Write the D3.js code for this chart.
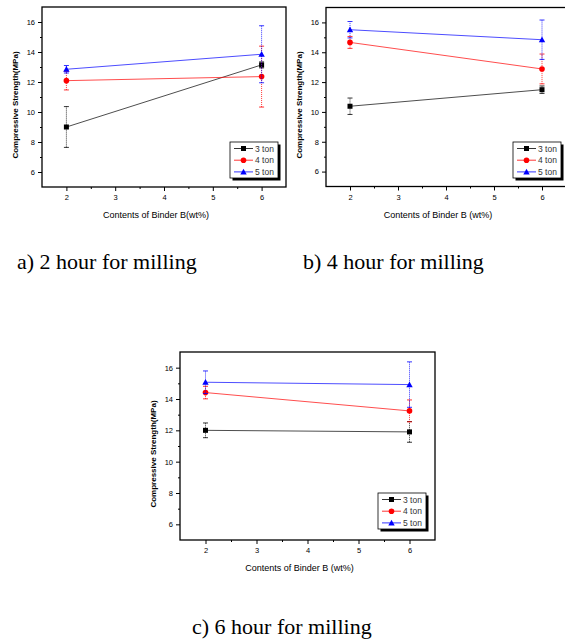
<!DOCTYPE html>
<html>
<head>
<meta charset="utf-8">
<script src="https://cdn.jsdelivr.net/npm/d3@7"></script>
<style>
  body { margin: 0; background: #fff; }
  svg { display: block; }
</style>
</head>
<body>
<script>
// Binder contents on the x axis
var binder = [2, 6];
var seriesNames = ["3 ton", "4 ton", "5 ton"];
var seriesColors = ["#000000", "#ff0000", "#0000ff"];
var xTicks = [2, 3, 4, 5, 6];
var yTicks = [6, 8, 10, 12, 14, 16];

// mean compressive strength, rows = 3 ton, 4 ton, 5 ton
var mean2h = [[9.0, 13.14], [12.09, 12.36], [12.85, 13.85]];
var err2h  = [[1.36, 0.2], [0.62, 2.03], [0.25, 1.9]];
var mean4h = [[10.38, 11.49], [14.66, 12.88], [15.51, 14.84]];
var err4h  = [[0.55, 0.25], [0.4, 1.0], [0.55, 1.32]];
var mean6h = [[12.0, 11.9], [14.41, 13.24], [15.07, 14.92]];
var err6h  = [[0.47, 0.66], [0.4, 0.7], [0.72, 1.45]];

var svg = d3.select("body").append("svg")
    .attr("width", 565)
    .attr("height", 639);

var panels = [
  { mean: mean2h, err: err2h, x0: 42, x1: 286, y0: 7, y1: 187,
    xTitle: "Contents of Binder B(wt%)", caption: "a) 2 hour for milling",
    capX: 17, capY: 269, legX: 230, legY: 142 },
  { mean: mean4h, err: err4h, x0: 326, x1: 566, y0: 7.5, y1: 186.5,
    xTitle: "Contents of Binder B (wt%)", caption: "b) 4 hour for milling",
    capX: 303, capY: 269, legX: 513, legY: 142 },
  { mean: mean6h, err: err6h, x0: 180, x1: 435, y0: 352, y1: 540,
    xTitle: "Contents of Binder B (wt%)", caption: "c) 6 hour for milling",
    capX: 192, capY: 634, legX: 378, legY: 493 }
];

panels.forEach(drawPanel);

function drawPanel(p) {
  var x = d3.scaleLinear().domain([1.5, 6.5]).range([p.x0, p.x1]);
  var y = d3.scaleLinear().domain([5, 17]).range([p.y1, p.y0]);
  var g = svg.append("g");

  // frame
  g.append("rect")
      .attr("x", p.x0).attr("y", p.y0)
      .attr("width", p.x1 - p.x0).attr("height", p.y1 - p.y0)
      .attr("fill", "none").attr("stroke", "#000").attr("stroke-width", 1.3);

  // axes
  var xAxis = g.append("g")
      .attr("transform", "translate(0," + p.y1 + ")")
      .call(d3.axisBottom(x).tickValues(xTicks).tickSize(4).tickSizeOuter(0).tickFormat(d3.format("d")));
  g.append("g")
      .attr("transform", "translate(0," + p.y1 + ")")
      .call(d3.axisBottom(x).tickValues([2.5, 3.5, 4.5, 5.5]).tickSize(2).tickSizeOuter(0).tickFormat(""));
  var yAxis = g.append("g")
      .attr("transform", "translate(" + p.x0 + ",0)")
      .call(d3.axisLeft(y).tickValues(yTicks).tickSize(4).tickSizeOuter(0));
  g.append("g")
      .attr("transform", "translate(" + p.x0 + ",0)")
      .call(d3.axisLeft(y).tickValues([7, 9, 11, 13, 15]).tickSize(2).tickSizeOuter(0).tickFormat(""));
  g.selectAll(".domain").remove();
  g.selectAll(".tick line").attr("stroke-width", 1);
  g.selectAll(".tick text")
      .attr("font-family", "Arial, 'Liberation Sans', sans-serif")
      .attr("font-size", 7.5).attr("fill", "#000");
  xAxis.selectAll(".tick text").attr("dy", "0.71em").attr("y", 8);
  yAxis.selectAll(".tick text").attr("x", -7);

  // axis titles
  g.append("text")
      .attr("x", (p.x0 + p.x1) / 2 - 8).attr("y", p.y1 + 31)
      .attr("text-anchor", "middle")
      .attr("font-family", "Arial, 'Liberation Sans', sans-serif")
      .attr("font-size", 9)
      .text(p.xTitle);
  g.append("text")
      .attr("transform", "translate(" + (p.x0 - 24) + "," + ((p.y0 + p.y1) / 2 + 8) + ") rotate(-90)")
      .attr("text-anchor", "middle")
      .attr("font-family", "Arial, 'Liberation Sans', sans-serif")
      .attr("font-size", 8).attr("font-weight", "bold")
      .text("Compressive Strength(MPa)");

  var line = d3.line()
      .x(function(d, i) { return x(binder[i]); })
      .y(function(d) { return y(d); });

  p.mean.forEach(function(vals, s) {
    var c = seriesColors[s];
    // error bars
    vals.forEach(function(v, i) {
      var cx = x(binder[i]);
      var e = p.err[s][i];
      g.append("line")
          .attr("x1", cx).attr("x2", cx)
          .attr("y1", y(v - e)).attr("y2", y(v + e))
          .attr("stroke", c).attr("stroke-width", 0.8)
          .attr("stroke-dasharray", "1,1");
      [v - e, v + e].forEach(function(w) {
        g.append("line")
            .attr("x1", cx - 2.5).attr("x2", cx + 2.5)
            .attr("y1", y(w)).attr("y2", y(w))
            .attr("stroke", c).attr("stroke-width", 0.8);
      });
    });
    g.append("path")
        .datum(vals)
        .attr("d", line)
        .attr("fill", "none")
        .attr("stroke", c).attr("stroke-width", 0.7);
    vals.forEach(function(v, i) {
      marker(g, s, x(binder[i]), y(v), c);
    });
  });

  // legend
  var lw = 48, lh = 36;
  g.append("rect")
      .attr("x", p.legX + 2.5).attr("y", p.legY + 2.5)
      .attr("width", lw).attr("height", lh).attr("fill", "#000");
  g.append("rect")
      .attr("x", p.legX).attr("y", p.legY)
      .attr("width", lw).attr("height", lh)
      .attr("fill", "#fff").attr("stroke", "#000").attr("stroke-width", 0.8);
  seriesNames.forEach(function(name, s) {
    var ly = p.legY + 6.5 + s * 11.7;
    var c = seriesColors[s];
    g.append("line")
        .attr("x1", p.legX + 4).attr("x2", p.legX + 23)
        .attr("y1", ly).attr("y2", ly)
        .attr("stroke", c).attr("stroke-width", 0.8);
    marker(g, s, p.legX + 13.5, ly, c);
    g.append("text")
        .attr("x", p.legX + 25).attr("y", ly + 3)
        .attr("font-family", "Arial, 'Liberation Sans', sans-serif")
        .attr("font-size", 8.5).attr("fill", "#333")
        .text(name);
  });

  // caption
  svg.append("text")
      .attr("x", p.capX).attr("y", p.capY)
      .attr("font-family", "'Liberation Serif', 'Times New Roman', serif")
      .attr("font-size", 22)
      .text(p.caption);
}

function marker(g, s, cx, cy, c) {
  if (s === 0) {
    g.append("rect").attr("x", cx - 2.5).attr("y", cy - 2.5)
        .attr("width", 5).attr("height", 5).attr("fill", c);
  } else if (s === 1) {
    g.append("circle").attr("cx", cx).attr("cy", cy).attr("r", 2.8).attr("fill", c);
  } else {
    g.append("path")
        .attr("d", "M" + cx + "," + (cy - 3.2) + "L" + (cx + 3.2) + "," + (cy + 2.6) + "L" + (cx - 3.2) + "," + (cy + 2.6) + "Z")
        .attr("fill", c);
  }
}
</script>
</body>
</html>
